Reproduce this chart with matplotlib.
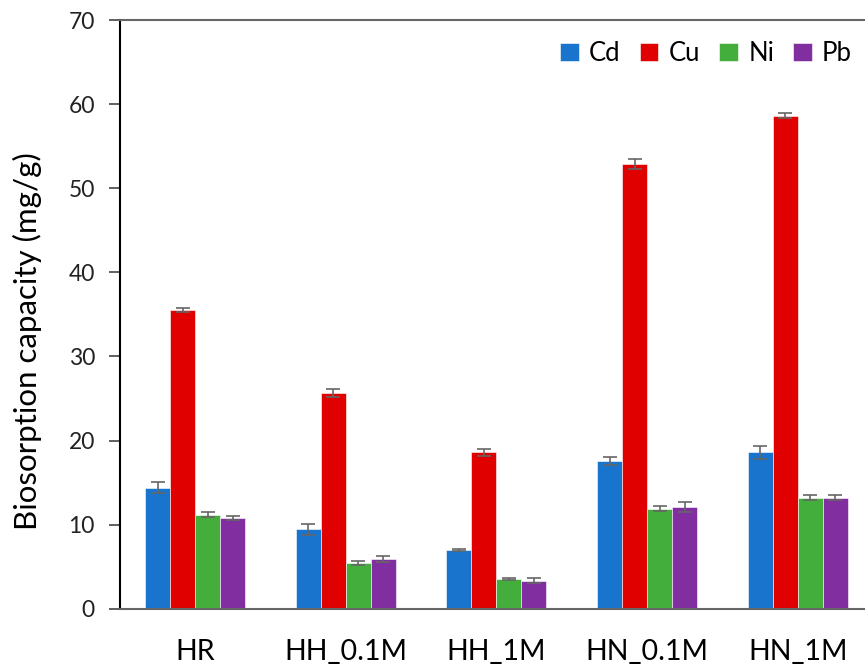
import matplotlib
matplotlib.use('Agg')
import matplotlib.pyplot as plt
import numpy as np

plt.rcParams['font.family'] = ['Lato', 'DejaVu Sans']

# 吸附量数据 (mg/g) 及误差
samples = ['HR', 'HH_0.1M', 'HH_1M', 'HN_0.1M', 'HN_1M']
metals = ['Cd', 'Cu', 'Ni', 'Pb']
cd = [14.4, 9.45, 7.0, 17.6, 18.6]
cu = [35.5, 25.6, 18.6, 52.9, 58.6]
ni = [11.2, 5.4, 3.5, 11.9, 13.2]
pb = [10.8, 5.9, 3.35, 12.1, 13.2]
cd_err = [0.65, 0.65, 0.12, 0.48, 0.75]
cu_err = [0.25, 0.48, 0.45, 0.57, 0.3]
ni_err = [0.3, 0.25, 0.1, 0.3, 0.3]
pb_err = [0.2, 0.36, 0.34, 0.57, 0.3]
colors = ['#1874CD', '#E00000', '#43AE3B', '#802EA0']

values = [cd, cu, ni, pb]
errors = [cd_err, cu_err, ni_err, pb_err]

fig = plt.figure(figsize=(8.65, 6.66), dpi=100)
ax = fig.add_axes([0.1387, 0.0860, 0.8705, 0.8839])

x = np.arange(len(samples))
width = 0.166
for i, (vals, errs, c, name) in enumerate(zip(values, errors, colors, metals)):
    ax.bar(x + (i - 1.5) * width, vals, width, color=c, label=name,
           edgecolor='white', linewidth=0.4,
           yerr=errs, capsize=5,
           error_kw=dict(ecolor='#666666', elinewidth=1.2, capthick=1.2))

ax.set_xlim(-0.5, 4.5)
ax.set_ylim(0, 70)
ax.set_yticks(range(0, 71, 10))
ax.set_xticks(x)
ax.set_xticklabels(samples)
ax.tick_params(axis='x', length=0, pad=22, labelsize=20.5, labelcolor='black')
ax.tick_params(axis='y', direction='out', length=8, width=1.2, pad=10,
               labelsize=16.5, labelcolor='#222222', color='#444444')
ax.set_ylabel('Biosorption capacity (mg/g)', fontsize=22.5)
ax.yaxis.set_label_coords(-0.103, 0.455)

for side in ['top', 'bottom', 'right']:
    ax.spines[side].set_color('#666666')
    ax.spines[side].set_linewidth(1.5)
ax.spines['left'].set_color('black')
ax.spines['left'].set_linewidth(1.5)

ax.legend(loc='upper right', bbox_to_anchor=(1.003, 1.004), ncol=4, frameon=False,
          fontsize=18.5, handlelength=0.72, handleheight=0.72, handletextpad=0.4,
          columnspacing=0.75)

plt.savefig('out.png', dpi=100)
